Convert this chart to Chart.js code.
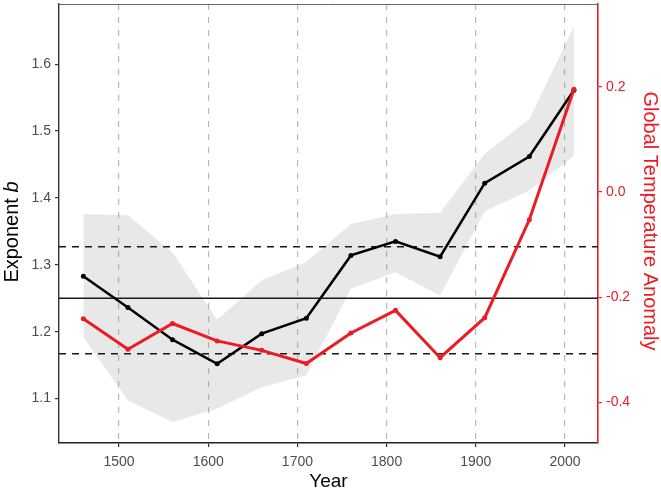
<!DOCTYPE html>
<html>
<head>
<meta charset="utf-8">
<script src="https://cdn.jsdelivr.net/npm/chart.js@4"></script>
<style>
  html, body { margin: 0; padding: 0; background: #fff; }
  #wrap { width: 661px; height: 490px; }
</style>
</head>
<body>
<div id="wrap"><canvas id="chart" width="661" height="490"></canvas></div>
<script>
/* ---------- DATA ---------- */
const years = [1460, 1510, 1560, 1610, 1660, 1710, 1760, 1810, 1860, 1910, 1960, 2010];
const exponentB = [1.283, 1.236, 1.188, 1.152, 1.197, 1.220, 1.314, 1.335, 1.312, 1.422, 1.462, 1.561];
const bandUpper = [1.376, 1.374, 1.318, 1.218, 1.277, 1.304, 1.361, 1.376, 1.378, 1.466, 1.518, 1.656];
const bandLower = [1.192, 1.097, 1.065, 1.085, 1.117, 1.135, 1.264, 1.289, 1.254, 1.380, 1.411, 1.463];
const tempAnomaly = [-0.241, -0.299, -0.250, -0.283, -0.301, -0.326, -0.268, -0.225, -0.315, -0.239, -0.053, 0.195];

const meanLine = 1.25;
const limitLines = [1.327, 1.167];

const xTicks = [1500, 1600, 1700, 1800, 1900, 2000];
const bTicks = [1.1, 1.2, 1.3, 1.4, 1.5, 1.6];
const tempTicks = [-0.4, -0.2, 0.0, 0.2];

/* ---------- STYLE ---------- */
const FONT = "'Liberation Sans', Arial, sans-serif";
const RED = "#ea1c24";
const TICK_GREY = "#4d4d4d";

Chart.defaults.font.family = FONT;

function pts(values) {
    return years.map((yr, i) => ({ x: yr, y: values[i] }));
}

// fixed scale sizes so the plot area matches the reference
function fixWidth(w) {
    return s => { s.width = w; s.paddingTop = 0; s.paddingBottom = 0; };
}

// reference lines drawn right after the band, under the two series
const refLines = {
    id: "refLines",
    afterDatasetDraw(chart, args) {
        if (args.index !== 2) return;
        const { ctx, chartArea } = chart;
        const y = chart.scales.y;
        ctx.save();
        ctx.strokeStyle = "#1a1a1a";
        ctx.lineWidth = 1.3;
        let py = y.getPixelForValue(meanLine);
        ctx.beginPath();
        ctx.moveTo(chartArea.left, py);
        ctx.lineTo(chartArea.right, py);
        ctx.stroke();
        ctx.lineWidth = 1.6;
        ctx.setLineDash([7, 6]);
        limitLines.forEach(v => {
            py = y.getPixelForValue(v);
            ctx.beginPath();
            ctx.moveTo(chartArea.left, py);
            ctx.lineTo(chartArea.right, py);
            ctx.stroke();
        });
        ctx.restore();
    }
};

// top frame line + axis titles
const frameAndTitles = {
    id: "frameAndTitles",
    afterDraw(chart) {
        const { ctx, chartArea } = chart;
        ctx.save();
        ctx.strokeStyle = "#666";
        ctx.lineWidth = 1;
        ctx.beginPath();
        ctx.moveTo(chartArea.left, chartArea.top + 0.5);
        ctx.lineTo(chartArea.right, chartArea.top + 0.5);
        ctx.stroke();

        ctx.fillStyle = "#000";
        ctx.font = "19px " + FONT;
        ctx.textAlign = "center";
        ctx.textBaseline = "alphabetic";
        ctx.fillText("Year", (chartArea.left + chartArea.right) / 2, 487);

        // left title, "b" in italics
        ctx.save();
        ctx.translate(18, 232);
        ctx.rotate(-Math.PI / 2);
        ctx.textAlign = "left";
        ctx.font = "20px " + FONT;
        const w1 = ctx.measureText("Exponent ").width;
        ctx.font = "italic 20px " + FONT;
        const w2 = ctx.measureText("b").width;
        const start = -(w1 + w2) / 2;
        ctx.font = "20px " + FONT;
        ctx.fillText("Exponent ", start, 0);
        ctx.font = "italic 20px " + FONT;
        ctx.fillText("b", start + w1, 0);
        ctx.restore();

        // right title
        ctx.save();
        ctx.translate(644, 221);
        ctx.rotate(Math.PI / 2);
        ctx.fillStyle = RED;
        ctx.font = "20px " + FONT;
        ctx.textAlign = "center";
        ctx.fillText("Global Temperature Anomaly", 0, 0);
        ctx.restore();

        ctx.restore();
    }
};

/* ---------- CHART ---------- */
new Chart(document.getElementById("chart"), {
    type: "line",
    data: {
        datasets: [
            {
                label: "Temperature",
                data: pts(tempAnomaly),
                yAxisID: "y2",
                borderColor: RED,
                backgroundColor: RED,
                borderWidth: 3,
                pointRadius: 2.5,
                pointBorderWidth: 0,
                tension: 0,
                fill: false
            },
            {
                label: "Exponent b",
                data: pts(exponentB),
                yAxisID: "y",
                borderColor: "#000",
                backgroundColor: "#000",
                borderWidth: 2.5,
                pointRadius: 2.5,
                pointBorderWidth: 0,
                tension: 0,
                fill: false
            },
            {
                label: "upper",
                data: pts(bandUpper),
                yAxisID: "y",
                borderWidth: 0,
                borderColor: "rgba(0,0,0,0)",
                backgroundColor: "rgba(140,140,140,0.2)",
                pointRadius: 0,
                fill: "+1"
            },
            {
                label: "lower",
                data: pts(bandLower),
                yAxisID: "y",
                borderWidth: 0,
                borderColor: "rgba(0,0,0,0)",
                pointRadius: 0,
                fill: false
            }
        ]
    },
    options: {
        responsive: false,
        animation: false,
        devicePixelRatio: 1,
        layout: { padding: { top: 3, left: 0, right: 0, bottom: 0 } },
        plugins: {
            legend: { display: false },
            tooltip: { enabled: false }
        },
        scales: {
            x: {
                type: "linear",
                min: 1432.7,
                max: 2037,
                afterBuildTicks: axis => { axis.ticks = xTicks.map(v => ({ value: v })); },
                afterFit: s => { s.height = 47; s.paddingLeft = 0; s.paddingRight = 0; },
                grid: { color: "#b8b8b8", lineWidth: 1.2, tickColor: "#333", tickLength: 4, tickWidth: 1.2 },
                border: { color: "#222", width: 1.4, dash: [6, 7] },
                ticks: { color: TICK_GREY, font: { size: 14 }, padding: 7, maxRotation: 0, callback: v => String(v) }
            },
            y: {
                position: "left",
                min: 1.0335,
                max: 1.690,
                afterBuildTicks: axis => { axis.ticks = bTicks.map(v => ({ value: v })); },
                afterFit: fixWidth(59),
                grid: { drawOnChartArea: false, color: "#333", tickLength: 4, lineWidth: 1.2 },
                border: { color: "#333", width: 1.4 },
                ticks: { color: TICK_GREY, font: { size: 14 }, padding: 4, callback: v => v.toFixed(1) }
            },
            y2: {
                position: "right",
                min: -0.477,
                max: 0.357,
                afterBuildTicks: axis => { axis.ticks = tempTicks.map(v => ({ value: v })); },
                afterFit: fixWidth(63),
                grid: { drawOnChartArea: false, color: RED, tickLength: 4, lineWidth: 1.2 },
                border: { color: RED, width: 1.6 },
                ticks: { color: RED, font: { size: 14 }, padding: 4, callback: v => v.toFixed(1) }
            }
        }
    },
    plugins: [refLines, frameAndTitles]
});
</script>
</body>
</html>
